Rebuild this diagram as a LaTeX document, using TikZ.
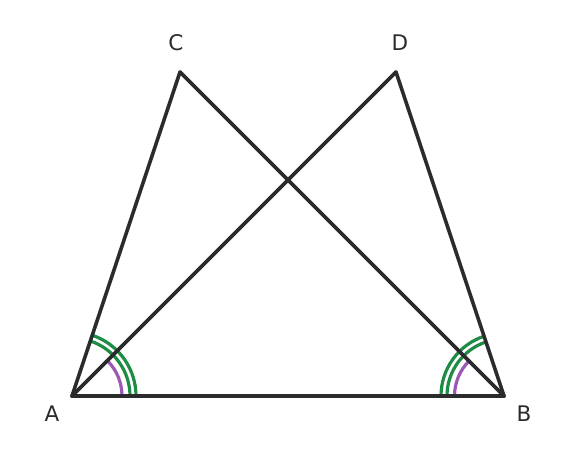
\documentclass[tikz,border=0pt]{standalone}
\usepackage{fontspec}
\setmainfont{DejaVu Sans}
\definecolor{edge}{HTML}{2B2B2D}
\definecolor{angg}{HTML}{1E8C45}
\definecolor{angp}{HTML}{9B59B6}
\begin{document}
\begin{tikzpicture}[x=1pt,y=-1pt,
  seg/.style={draw=edge,line width=3.6pt,line cap=round,line join=round},
  garc/.style={draw=angg,line width=3.2pt},
  parc/.style={draw=angp,line width=3.2pt},
  lbl/.style={font=\fontsize{21.5}{25}\selectfont,text=edge,inner sep=0pt}]
\useasboundingbox (0,0) rectangle (576,468);
\coordinate (A) at (72,396);
\coordinate (B) at (504,396);
\coordinate (C) at (180,72);
\coordinate (D) at (396,72);
% angle arcs (drawn first)
\draw[garc] ([shift={(0:58)}]A) arc[start angle=0,end angle=-71.57,radius=58];
\draw[garc] ([shift={(0:64)}]A) arc[start angle=0,end angle=-71.57,radius=64];
\draw[parc] ([shift={(0:50)}]A) arc[start angle=0,end angle=-45,radius=50];
\draw[garc] ([shift={(180:57)}]B) arc[start angle=180,end angle=251.57,radius=57];
\draw[garc] ([shift={(180:63)}]B) arc[start angle=180,end angle=251.57,radius=63];
\draw[parc] ([shift={(180:49.5)}]B) arc[start angle=180,end angle=225,radius=49.5];
% triangle sides
\draw[seg] (A) -- (B);
\draw[seg] (A) -- (C);
\draw[seg] (A) -- (D);
\draw[seg] (B) -- (C);
\draw[seg] (B) -- (D);
% labels
\node[lbl] (lA) at (52,414) {A};
\node[lbl] (lB) at (524,414) {B};
\node[lbl] (lC) at (176,43) {C};
\node[lbl] (lD) at (400,43) {D};
\end{tikzpicture}
\end{document}
